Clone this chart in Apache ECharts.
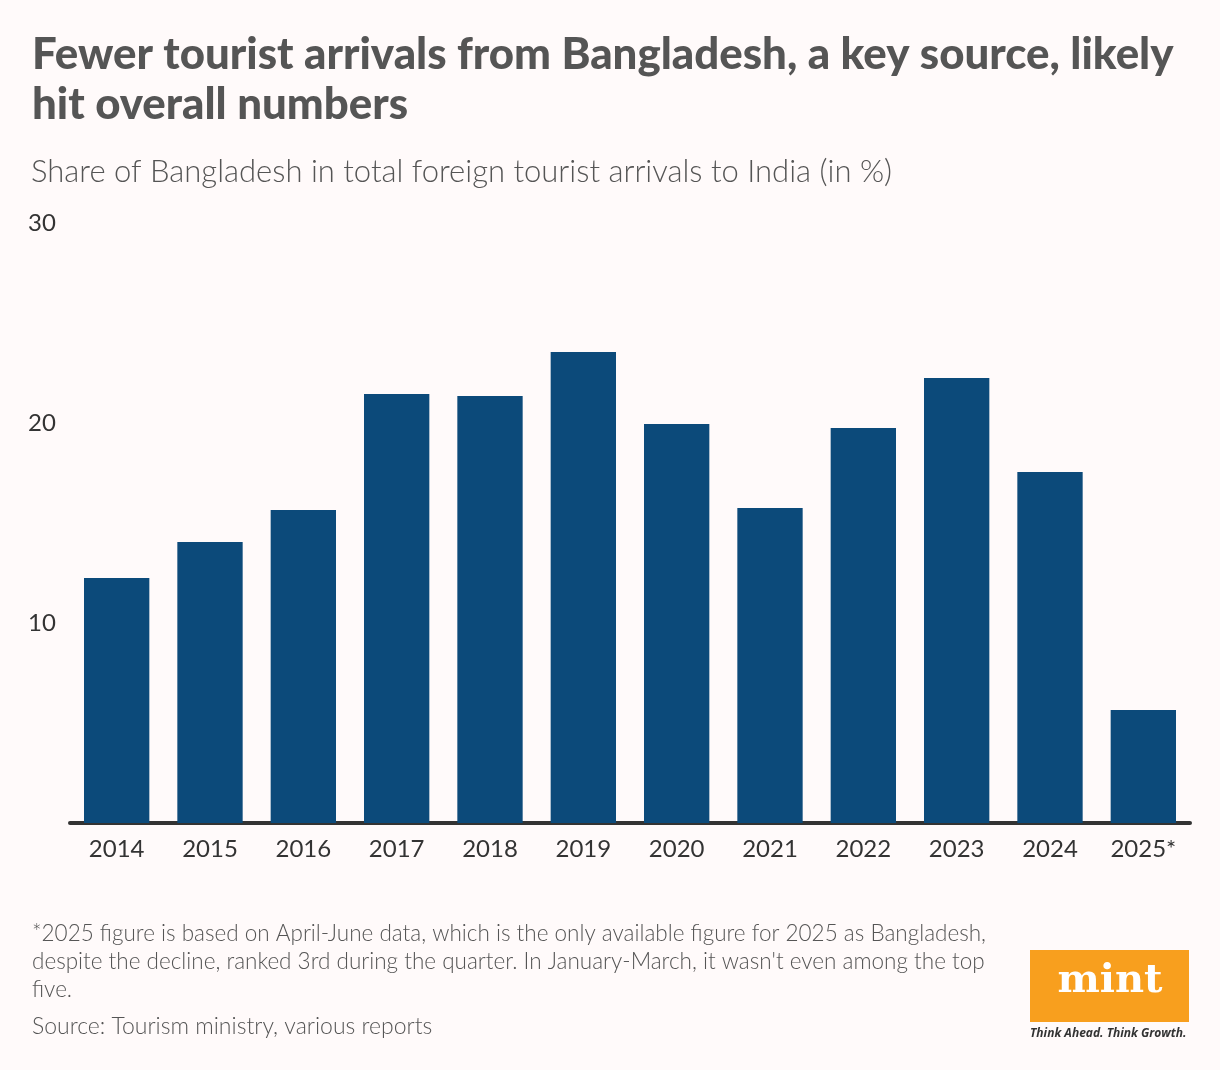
<!DOCTYPE html>
<html>
<head>
<meta charset="utf-8">
<script src="https://cdn.jsdelivr.net/npm/echarts@6/dist/echarts.min.js"></script>
<style>
html,body{margin:0;padding:0;background:#fffafa;}
#c{width:1220px;height:1070px;}
</style>
</head>
<body>
<div id="c"></div>
<script>
const categories = ['2014','2015','2016','2017','2018','2019','2020','2021','2022','2023','2024','2025*'];
const shareValues = [12.25, 14.05, 15.65, 21.45, 21.35, 23.55, 19.95, 15.75, 19.75, 22.25, 17.55, 5.65];
const yTicks = [10, 20, 30];

const chart = echarts.init(document.getElementById('c'), null, {renderer: 'canvas'});
chart.setOption({
  backgroundColor: '#fffafa',
  animation: false,
  title: [
    {
      text: 'Fewer tourist arrivals from Bangladesh, a key source, likely\nhit overall numbers',
      left: 27, top: 25,
      textStyle: {fontFamily: 'Lato', fontWeight: 900, fontSize: 43.8, lineHeight: 50, color: '#555555'}
    },
    {
      text: 'Share of Bangladesh in total foreign tourist arrivals to India (in %)',
      left: 26, top: 151,
      textStyle: {fontFamily: 'Lato', fontWeight: 300, fontSize: 31, color: '#555555'}
    },
    {
      text: "*2025 figure is based on April-June data, which is the only available figure for 2025 as Bangladesh,\ndespite the decline, ranked 3rd during the quarter. In January-March, it wasn't even among the top\nfive.",
      left: 27, top: 915,
      textStyle: {fontFamily: 'Lato', fontWeight: 300, fontSize: 22.5, lineHeight: 28, color: '#555555'}
    },
    {
      text: 'Source: Tourism ministry, various reports',
      left: 27, top: 1010,
      textStyle: {fontFamily: 'Lato', fontWeight: 300, fontSize: 23, color: '#555555'}
    }
  ],
  graphic: [
    {type: 'rect', left: 1030, top: 950, shape: {width: 159, height: 72}, style: {fill: '#f89f1e'}},
    {type: 'text', x: 1110, y: 962, style: {text: 'mint', fill: '#ffffff', font: 'bold 40px "DejaVu Serif"', align: 'center'}},
    {type: 'text', left: 1030, top: 1028, style: {text: 'Think Ahead. Think Growth.', fill: '#333333', font: 'italic bold 12px "Open Sans"'}}
  ],
  grid: {left: 70, right: 30, top: 223, bottom: 247, containLabel: false},
  xAxis: {
    type: 'category',
    data: categories,
    axisLine: {show: true, lineStyle: {color: '#333333', width: 4}},
    axisTick: {show: false},
    axisLabel: {fontFamily: 'Lato', fontSize: 24, color: '#333333', margin: 14}
  },
  yAxis: {
    type: 'value',
    min: 0, max: 30, interval: 10,
    splitLine: {show: false},
    axisLine: {show: false},
    axisTick: {show: false},
    axisLabel: {
      fontFamily: 'Lato', fontSize: 24, color: '#333333', align: 'left', margin: 42,
      formatter: v => yTicks.includes(v) ? String(v) : ''
    }
  },
  series: [{
    type: 'bar',
    data: shareValues,
    barWidth: '70%',
    itemStyle: {color: '#0c4a7a'}
  }]
});
</script>
</body>
</html>
